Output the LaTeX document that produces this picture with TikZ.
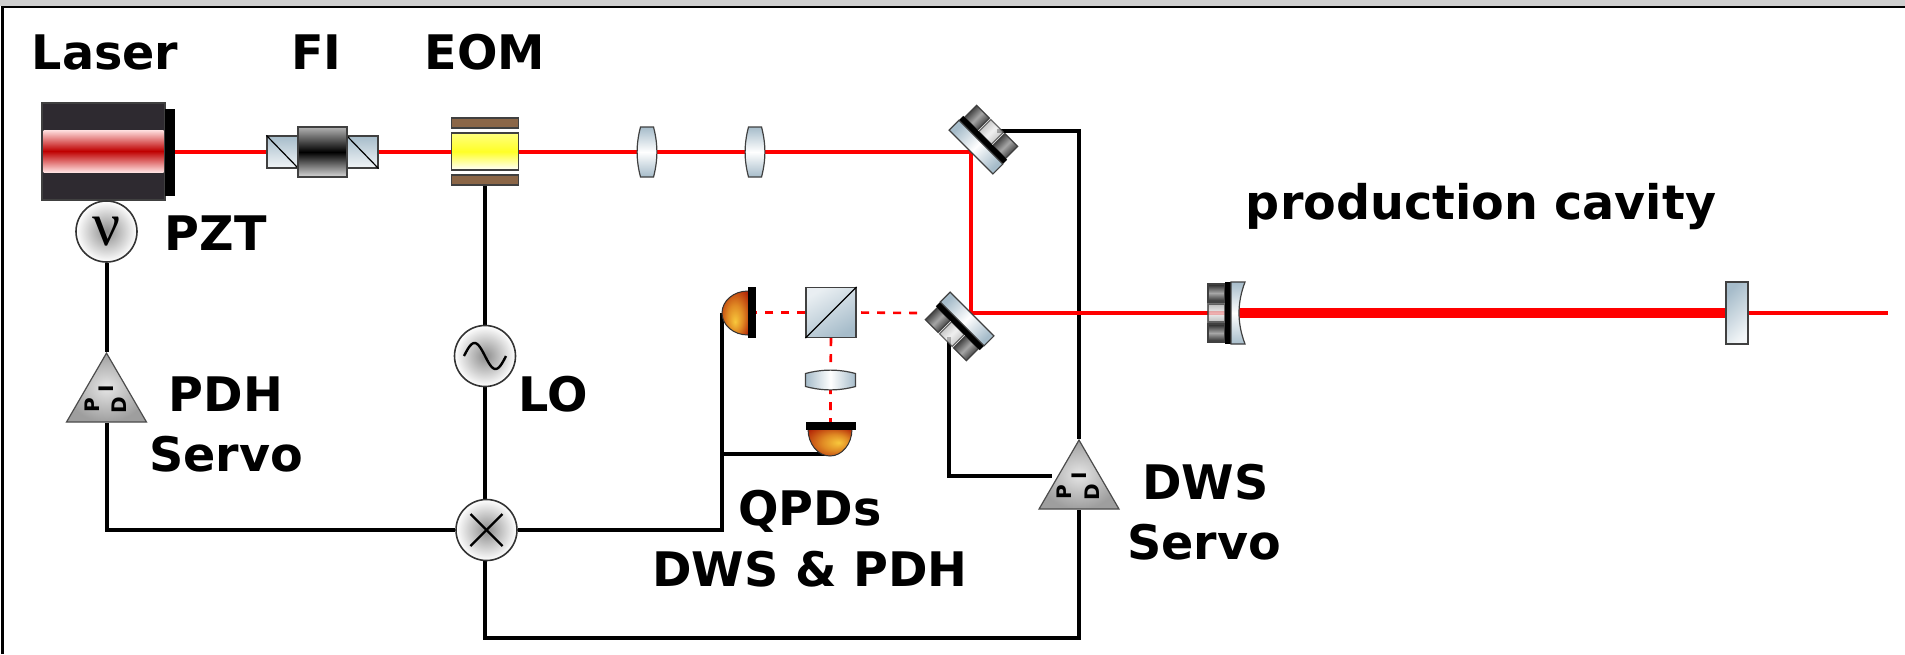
\documentclass[tikz,border=0pt]{standalone}
\usepackage{fontspec}
\setmainfont{DejaVu Sans}
\newfontfamily\nufont{Liberation Serif}
\usetikzlibrary{shapes.geometric,backgrounds}
\definecolor{steel}{HTML}{A6BCCA}
\definecolor{housing}{HTML}{2E2A30}
\definecolor{brass}{HTML}{8B6647}
\definecolor{domeyellow}{HTML}{F8C83C}
\definecolor{domeorange}{HTML}{E08A24}
\definecolor{domered}{HTML}{A80E00}
\pgfdeclareradialshading{domeglow}{\pgfpoint{10bp}{0bp}}{color(0bp)=(domeyellow); color(15bp)=(domeorange); color(38bp)=(domered)}

\begin{document}
\begin{tikzpicture}[x=.5pt, y=-.5pt,
  lab/.style={anchor=base west, inner sep=0pt, font=\bfseries\fontsize{23.8}{27}\selectfont},
  pidl/.style={inner sep=0pt, rotate=90, font=\bfseries\fontsize{10}{12}\selectfont},
  box/.style={rectangle, inner sep=0pt, draw=black!75, line width=.6pt},
  optic/.style={draw=black!75, line width=.6pt},
  osc/.style={circle, inner sep=0pt, minimum size=30.5pt, draw=black!80, line width=.8pt, inner color=black!45, outer color=white},
  servo/.style={isosceles triangle, isosceles triangle stretches, shape border rotate=90, inner sep=0pt,
    minimum width=40pt, minimum height=34.5pt, anchor=apex, draw=black!70, line width=.6pt, inner color=black!10, outer color=black!38},
  wire/.style={line width=2pt, line join=miter},
  beam/.style={red, line width=2pt, line join=miter},
  pick/.style={red, line width=1.3pt, dash pattern=on 4pt off 4pt},
  symb/.style={line width=1.2pt}]
  \useasboundingbox (0,0) rectangle (1905,654);

  % laser head, isolator, modulator
  \node[box, fill=housing, minimum width=61.5pt, minimum height=48.5pt] (laser) at (103.5,151.5) {};
  \node[rectangle, inner sep=0pt, top color=red!12, bottom color=red!12, middle color=red!75!black,
    minimum width=60pt, minimum height=21pt] (band) at (103.5,151) {};
  \node[rectangle, inner sep=0pt, fill=black, minimum width=4.75pt, minimum height=43.5pt] (head) at (169.8,152) {};
  \node[box, top color=steel, bottom color=steel!15, minimum width=15.5pt, minimum height=16pt] (fil) at (282.5,152) {};
  \node[box, top color=steel, bottom color=steel!15, minimum width=15.5pt, minimum height=16pt] (fir) at (362.5,152) {};
  \draw[line width=.6pt] (fil.north west) -- (fil.south east);
  \draw[line width=.6pt] (fir.north west) -- (fir.south east);
  \node[box, top color=black!30, bottom color=black!15, middle color=black, minimum width=24.5pt, minimum height=25pt] (fi) at (322.5,152) {};
  \node[box, fill=brass, minimum width=33.75pt, minimum height=5pt] (eomt) at (485,123) {};
  \node[box, top color=yellow!50, bottom color=white, middle color=yellow!85, minimum width=33.75pt, minimum height=18.5pt] (eom) at (485,151.5) {};
  \node[box, fill=brass, minimum width=33.75pt, minimum height=5pt] (eomb) at (485,180) {};

  % lenses
  \foreach \nm/\px/\py/\ang in {lone/647/152/0, ltwo/755/152/0, lthree/830.5/380/90}{
    \begin{scope}[shift={(\px,\py)}, rotate=\ang]
      \coordinate (\nm) at (0,0);
      \draw[optic, top color=steel, bottom color=steel, middle color=white, shading angle=\ang]
        (-6.5,-25) -- (6.5,-25) .. controls (11,-8) and (11,8) .. (6.5,25)
        -- (-6.5,25) .. controls (-11,8) and (-11,-8) .. (-6.5,-25) -- cycle;
    \end{scope}
  }

  % mirrors with their actuators
  \foreach \nm/\px/\py/\ang/\cv in {mone/971/152/45/0, mtwo/972/314/225/0, mthree/1245/313/180/8}{
    \begin{scope}[shift={(\px,\py)}, rotate=\ang]
      \coordinate (\nm) at (0,0);
      \foreach \k/\kc/\km/\ko in {-20/85/35/1, 0/35/8/.75, 20/85/35/1}
        \draw[optic, opacity=\ko, top color=black!\kc, bottom color=black!\kc, middle color=black!\km, shading angle=\ang]
          (20,\k-9) rectangle (37,\k+9);
      \fill[black] (14,-31) rectangle (20,31);
      \draw[optic, top color=steel, bottom color=steel, middle color=white, shading angle=\ang]
        (14,-31) -- (0,-31) .. controls (\cv,-10) and (\cv,10) .. (0,31) -- (14,31) -- cycle;
    \end{scope}
  }
  \node[box, top color=steel, bottom color=steel!15, shading angle=45, minimum width=11pt, minimum height=31pt] (mfour) at (1737,313) {};

  % pick-off to the detectors
  \node[box, top color=steel!25, bottom color=steel, shading angle=30, minimum size=25pt] (cube) at (831,312.5) {};
  \draw[line width=.6pt] (cube.south west) -- (cube.north east);
  \fill[shading=domeglow, shading angle=-90] (748,291) arc[start angle=90, end angle=270, x radius=13pt, y radius=11pt] -- cycle;
  \draw[black!80, line width=.5pt] (748,291) arc[start angle=90, end angle=270, x radius=13pt, y radius=11pt];
  \node[rectangle, inner sep=0pt, fill=black, minimum width=4pt, minimum height=25.5pt] (qpdone) at (752,312.5) {};
  \fill[shading=domeglow] (808,429) arc[start angle=180, end angle=360, x radius=11pt, y radius=13.5pt] -- cycle;
  \draw[black!80, line width=.5pt] (808,429) arc[start angle=180, end angle=360, x radius=11pt, y radius=13.5pt];
  \node[rectangle, inner sep=0pt, fill=black, minimum width=25pt, minimum height=3.75pt] (qpdtwo) at (830.5,426) {};

  % electronics
  \node[osc] (pzt) at (106.5,231.5) {\nufont\mdseries\fontsize{31}{31}\selectfont ν};
  \node[osc] (lo) at (485,356) {};
  \node[osc] (mix) at (486.5,530) {};
  \draw[symb, shift={(lo)}] plot[domain=-1:1, samples=30, smooth] ({\x*21},{13*sin(\x*180)});
  \draw[symb] ([shift={(-16,-16)}]mix.center) -- ([shift={(16,16)}]mix.center);
  \draw[symb] ([shift={(-16,16)}]mix.center) -- ([shift={(16,-16)}]mix.center);
  \node[servo] (pdh) at (106.5,351.5) {};
  \node[servo] (dws) at (1079,438.5) {};
  \foreach \sv in {pdh,dws}{
    \node[pidl] (\sv p) at ([shift={(-14.5,53.5)}]\sv.apex) {P};
    \node[pidl] (\sv i) at ([shift={(0,37.5)}]\sv.apex) {I};
    \node[pidl] (\sv d) at ([shift={(13,53.5)}]\sv.apex) {D};
  }

  \coordinate (wone) at (997,131);
  \coordinate (wtwo) at (949,337);
  \coordinate (qone) at (722,313);
  \coordinate (qtwo) at (830,454);
  \coordinate (bend) at (971,313);
  \coordinate (mfront) at (1238,313);
  \coordinate (tail) at (1888,313);
  \coordinate (pickin) at (917,313);
  \begin{scope}[on background layer]
    \fill[white] (0,0) rectangle (1905,654);
    \fill[black!19] (0,0) rectangle (1905,6);
    \draw[line width=1.25pt] (2.5,654) -- (2.5,6.75) -- (1905,6.75);
    \draw[wire] (pzt.south) -- (pdh.apex);
    \draw[wire] (pdh.south) |- (mix.west);
    \draw[wire] (eomb.south) -- (lo.north);
    \draw[wire] (lo.south) -- (lo.south |- mix.north);
    \draw[wire] (mix.east) -| (qone);
    \draw[wire] (qtwo) -- (qtwo -| qone);
    \draw[wire] (lo.south |- mix.south) |- (1079,638) -- (dws.south);
    \draw[wire] (dws.apex) |- (wone);
    \draw[wire] (dws.west |- 0,476) -| (wtwo);
    \draw[beam] (head.east) -- (mone) -- (bend) -- (mfront);
    \draw[red, line width=5.4pt] (mfront) -- (mfour);
    \draw[beam] (mfour) -- (tail);
    \draw[pick] (pickin) -- (cube.east);
    \draw[pick] (cube.west) -- (qpdone.east);
    \draw[pick] (cube.south) -- (lthree) -- (qpdtwo.north);
  \end{scope}

  % labels
  \node[lab] (tlaser) at (31.5,69) {Laser};
  \node[lab] (tfi) at (291,69) {FI};
  \node[lab] (teom) at (424.5,69) {EOM};
  \node[lab] (tpzt) at (164.5,250) {PZT};
  \node[lab] (tpdh) at (168.5,411) {PDH};
  \node[lab] (tpdhs) at (149,471) {Servo};
  \node[lab] (tlo) at (518,411) {LO};
  \node[lab] (tq) at (738,525) {QPDs};
  \node[lab] (tqd) at (652,586) {DWS \& PDH};
  \node[lab] (tdws) at (1142,499) {DWS};
  \node[lab] (tdwss) at (1127,559) {Servo};
  \node[lab] (tcav) at (1245.5,219) {production cavity};
\end{tikzpicture}
\end{document}
